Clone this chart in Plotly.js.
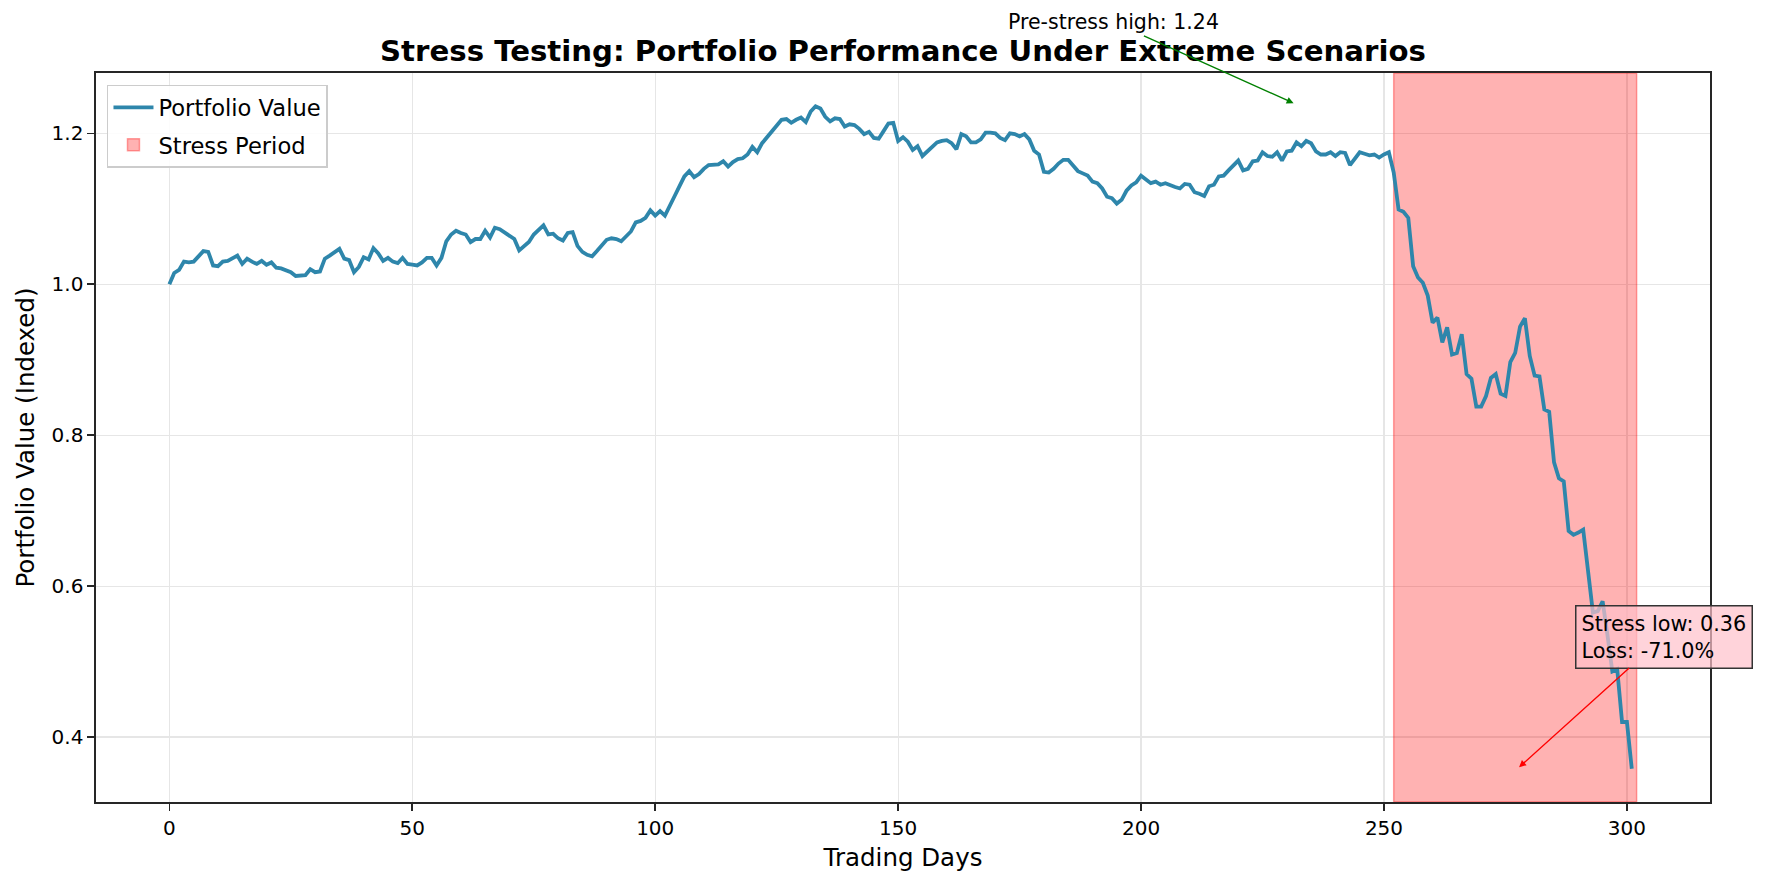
<!DOCTYPE html>
<html>
<head>
<meta charset="utf-8">
<script src="https://cdn.plot.ly/plotly-3.0.1.min.js"></script>
<style>html,body{margin:0;padding:0;background:#fff;}#chart{width:1769px;height:886px;}</style>
</head>
<body>
<div id="chart"></div>
<script>
// ---- data ----
const portfolioValues = [
1.000,1.015,1.019,1.030,1.029,1.030,1.037,1.044,1.043,1.025,
1.024,1.030,1.031,1.035,1.038,1.027,1.034,1.030,1.027,1.031,
1.026,1.029,1.022,1.021,1.019,1.016,1.011,1.011,1.012,1.020,
1.016,1.017,1.034,1.038,1.042,1.047,1.034,1.032,1.016,1.023,
1.036,1.033,1.048,1.041,1.031,1.035,1.030,1.028,1.035,1.027,
1.026,1.025,1.029,1.035,1.035,1.025,1.035,1.057,1.066,1.071,
1.068,1.066,1.056,1.060,1.060,1.071,1.062,1.075,1.073,1.069,
1.065,1.060,1.045,1.050,1.056,1.066,1.072,1.078,1.066,1.067,
1.061,1.058,1.068,1.069,1.051,1.043,1.039,1.037,1.044,1.051,
1.059,1.061,1.060,1.057,1.063,1.070,1.082,1.084,1.088,1.098,
1.091,1.097,1.091,1.103,1.117,1.130,1.143,1.150,1.142,1.146,
1.153,1.158,1.159,1.159,1.163,1.156,1.162,1.166,1.167,1.172,
1.182,1.175,1.187,1.195,1.203,1.211,1.218,1.219,1.214,1.218,
1.221,1.215,1.229,1.236,1.233,1.222,1.216,1.220,1.219,1.209,
1.212,1.211,1.206,1.199,1.202,1.194,1.193,1.203,1.213,1.214,
1.190,1.195,1.189,1.178,1.183,1.170,1.176,1.183,1.188,1.190,
1.191,1.187,1.179,1.199,1.196,1.188,1.188,1.192,1.201,1.201,
1.200,1.194,1.191,1.200,1.199,1.196,1.199,1.192,1.177,1.172,
1.149,1.148,1.153,1.160,1.165,1.165,1.158,1.150,1.147,1.144,
1.136,1.134,1.127,1.116,1.114,1.107,1.112,1.124,1.131,1.135,
1.144,1.139,1.134,1.136,1.132,1.134,1.131,1.129,1.127,1.133,
1.132,1.122,1.120,1.117,1.130,1.132,1.143,1.144,1.151,1.158,
1.164,1.151,1.153,1.163,1.164,1.175,1.170,1.169,1.175,1.164,
1.176,1.177,1.188,1.183,1.190,1.187,1.176,1.172,1.172,1.175,
1.170,1.175,1.174,1.158,1.167,1.175,1.173,1.171,1.172,1.168,
1.172,1.175,1.148,1.099,1.096,1.088,1.024,1.009,1.002,0.985,
0.949,0.956,0.923,0.943,0.907,0.909,0.934,0.881,0.875,0.838,
0.838,0.852,0.876,0.881,0.855,0.852,0.897,0.909,0.944,0.955,
0.905,0.879,0.878,0.834,0.831,0.764,0.743,0.739,0.673,0.668,
0.671,0.675,0.620,0.565,0.567,0.580,0.535,0.487,0.490,0.420,
0.420,0.358
];
const tradingDays = portfolioValues.map((v, i) => i);
const stressStart = 252;
const stressEnd = 302;
const preStressHigh = 1.24;
const stressLow = 0.36;
const lossPct = -71.0;
const xTicks = [0, 50, 100, 150, 200, 250, 300];
const yTicks = [0.4, 0.6, 0.8, 1.0, 1.2];

// ---- layout constants ----
const xRange = [-15.1, 317.1];
const yRange = [0.314, 1.280];
const font = "DejaVu Sans, Liberation Sans, sans-serif";

const stressTrace = {
  type: "bar",
  x: [(stressStart + stressEnd) / 2],
  y: [yRange[1] - yRange[0]],
  base: [yRange[0]],
  width: [stressEnd - stressStart],
  name: "Stress Period",
  legendgroup: "b",
  marker: {color: "rgba(255,0,0,0.3)", line: {color: "rgba(255,0,0,0.35)", width: 1.5}},
  hoverinfo: "skip",
  legendrank: 2
};

const lineTrace = {
  type: "scatter",
  mode: "lines",
  x: tradingDays,
  y: portfolioValues,
  name: "Portfolio Value",
  legendgroup: "a",
  line: {color: "#2E86AB", width: 3.8},
  legendrank: 1
};

const axisCommon = {
  showline: true, linecolor: "#262626", linewidth: 1.6, mirror: true,
  ticks: "outside", ticklen: 7, tickwidth: 1.6, tickcolor: "#262626",
  showgrid: true, gridcolor: "#e6e6e6", gridwidth: 1.2,
  zeroline: false,
  tickfont: {family: font, size: 20, color: "#000"}
};

const layout = {
  width: 1769, height: 886,
  margin: {l: 96, r: 59, t: 73, b: 84},
  paper_bgcolor: "#fff", plot_bgcolor: "#fff",
  font: {family: font, color: "#000"},
  bargap: 0,
  title: {
    text: "<b>Stress Testing: Portfolio Performance Under Extreme Scenarios</b>",
    font: {family: font, size: 29.2, color: "#000"},
    x: 0.5, xref: "paper", y: 1 - 51 / 886, yref: "container", yanchor: "middle"
  },
  xaxis: Object.assign({}, axisCommon, {
    range: xRange, tickvals: xTicks,
    title: {text: "Trading Days", font: {family: font, size: 24.5}, standoff: 10}
  }),
  yaxis: Object.assign({}, axisCommon, {
    range: yRange, tickvals: yTicks, tickformat: ".1f",
    title: {text: "Portfolio Value (Indexed)", font: {family: font, size: 24.5}, standoff: 10}
  }),
  showlegend: true,
  legend: {
    x: 0.0068, y: 0.984, xanchor: "left", yanchor: "top",
    bgcolor: "rgba(255,255,255,0.85)", bordercolor: "#cccccc", borderwidth: 1.5,
    font: {family: font, size: 22.6, color: "#000"},
    traceorder: "grouped", tracegroupgap: 5, itemwidth: 40
  },
  annotations: [
    {
      x: 231.4, y: preStressHigh, xref: "x", yref: "y",
      ax: 194.4, ay: 1.347, axref: "x", ayref: "y",
      text: "Pre-stress high: " + preStressHigh.toFixed(2),
      showarrow: true, arrowhead: 2, arrowsize: 1, arrowwidth: 1.4, arrowcolor: "green",
      font: {family: font, size: 20.5, color: "#000"}
    },
    {
      x: 277.8, y: stressLow, xref: "x", yref: "y",
      ax: 307.6, ay: 0.533, axref: "x", ayref: "y",
      text: "Stress low: " + stressLow.toFixed(2) + "<br>Loss: " + lossPct.toFixed(1) + "%",
      align: "left",
      showarrow: true, arrowhead: 2, arrowsize: 1, arrowwidth: 1.4, arrowcolor: "red",
      bgcolor: "rgba(255,192,203,0.7)", bordercolor: "#333333", borderwidth: 1.5, borderpad: 5,
      font: {family: font, size: 20.8, color: "#000"}
    }
  ]
};

Plotly.newPlot("chart", [stressTrace, lineTrace], layout, {displayModeBar: false, staticPlot: true});
</script>
</body>
</html>
